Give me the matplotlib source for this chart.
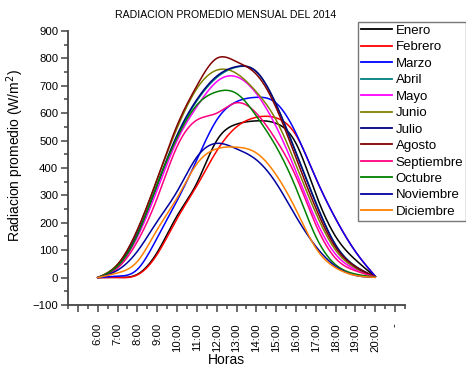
import numpy as np
import matplotlib
matplotlib.use("Agg")
import matplotlib.pyplot as plt
from matplotlib.ticker import MultipleLocator, FixedLocator

plt.rcParams['font.family'] = ['Liberation Sans', 'DejaVu Sans']

hours = [6, 7, 8, 9, 10, 11, 12, 13, 14, 15, 16, 17, 18, 19, 20]
hour_labels = ['6:00', '7:00', '8:00', '9:00', '10:00', '11:00', '12:00', '13:00',
               '14:00', '15:00', '16:00', '17:00', '18:00', '19:00', '20:00']

enero = [0, 1, 12, 92, 225, 345, 500, 560, 572, 563, 490, 305, 150, 65, 3]
febrero = [0, 0, 10, 85, 215, 335, 462, 550, 585, 583, 520, 363, 215, 95, 5]
marzo = [0, 5, 30, 145, 280, 430, 575, 642, 658, 637, 527, 363, 215, 95, 5]
abril = [0, 40, 155, 335, 515, 645, 730, 768, 752, 632, 458, 275, 120, 42, 3]
mayo = [0, 40, 148, 320, 500, 624, 715, 733, 672, 551, 387, 211, 85, 30, 2]
junio = [0, 48, 172, 360, 545, 690, 757, 745, 678, 575, 411, 236, 100, 35, 2]
julio = [0, 42, 160, 340, 520, 650, 735, 770, 752, 632, 455, 272, 118, 40, 3]
agosto = [0, 48, 175, 360, 555, 700, 800, 788, 742, 620, 437, 254, 110, 40, 3]
septiembre = [0, 35, 132, 290, 478, 575, 600, 638, 600, 502, 369, 193, 70, 25, 2]
octubre = [0, 42, 155, 340, 510, 630, 678, 672, 590, 478, 327, 150, 47, 13, 2]
noviembre = [0, 27, 96, 205, 314, 440, 490, 470, 430, 345, 223, 114, 41, 8, 1]
diciembre = [0, 17, 59, 175, 290, 415, 470, 476, 455, 375, 248, 108, 36, 8, 1]

months = ['Enero', 'Febrero', 'Marzo', 'Abril', 'Mayo', 'Junio', 'Julio',
          'Agosto', 'Septiembre', 'Octubre', 'Noviembre', 'Diciembre']
series = [enero, febrero, marzo, abril, mayo, junio, julio, agosto,
          septiembre, octubre, noviembre, diciembre]
colors = ['#000000', '#FF0000', '#0000FF', '#008080', '#FF00FF', '#808000',
          '#000080', '#800000', '#FF0080', '#008000', '#0000A0', '#FF8000']


def natural_spline(x, y, xs):
    x = np.asarray(x, float)
    y = np.asarray(y, float)
    n = len(x)
    h = np.diff(x)
    A = np.zeros((n, n))
    b = np.zeros(n)
    A[0, 0] = 1
    A[-1, -1] = 1
    for i in range(1, n - 1):
        A[i, i - 1] = h[i - 1]
        A[i, i] = 2 * (h[i - 1] + h[i])
        A[i, i + 1] = h[i]
        b[i] = 3 * ((y[i + 1] - y[i]) / h[i] - (y[i] - y[i - 1]) / h[i - 1])
    c = np.linalg.solve(A, b)
    out = np.empty_like(xs)
    idx = np.clip(np.searchsorted(x, xs) - 1, 0, n - 2)
    for k, xv in enumerate(xs):
        i = idx[k]
        dx = xv - x[i]
        bi = (y[i + 1] - y[i]) / h[i] - h[i] * (2 * c[i] + c[i + 1]) / 3
        di = (c[i + 1] - c[i]) / (3 * h[i])
        out[k] = y[i] + bi * dx + c[i] * dx ** 2 + di * dx ** 3
    return out


fig = plt.figure(figsize=(4.66, 3.68), dpi=100)
ax = fig.add_axes([68 / 466, 1 - 305 / 368, 337 / 466, 274 / 368])

xs = np.linspace(hours[0], hours[-1], 400)
for name, vals, col in zip(months, series, colors):
    ax.plot(xs, natural_spline(hours, vals, xs), color=col, lw=1.1, label=name)

ax.set_xlim(4.5, 21.5)
ax.set_ylim(-100, 900)

for s in ['top', 'right']:
    ax.spines[s].set_visible(False)
for s in ['left', 'bottom']:
    ax.spines[s].set_color('#444444')
    ax.spines[s].set_linewidth(1.3)

ax.yaxis.set_major_locator(MultipleLocator(100))
ax.yaxis.set_minor_locator(MultipleLocator(50))
tick_pos = list(range(5, 22))
ax.xaxis.set_major_locator(FixedLocator(tick_pos))
ax.set_xticklabels([''] + hour_labels + ['-'], rotation=90, fontsize=8.2)
ax.xaxis.set_minor_locator(MultipleLocator(0.5))
ax.tick_params(axis='both', which='major', length=5, width=1.1, color='#444444', direction='out')
ax.tick_params(axis='both', which='minor', length=3, width=1.1, color='#444444', direction='out')
ax.tick_params(axis='y', labelsize=8.2, pad=2)
ax.tick_params(axis='x', pad=8)

fig.text(15 / 466, 1 - 156 / 368, 'Radiacion promedio (W/m$^2$)', rotation=90,
         ha='center', va='center', fontsize=10)
fig.text(226 / 466, 1 - 360 / 368, 'Horas', ha='center', va='center', fontsize=10)
fig.text(226 / 466, 1 - 15 / 368, 'RADIACION PROMEDIO MENSUAL DEL 2014',
         ha='center', va='center', fontsize=7.6)

leg = fig.legend(loc='upper left', bbox_to_anchor=(358 / 466, 1 - 22 / 368),
                 fontsize=9.5, frameon=True, fancybox=False, borderpad=0.2,
                 labelspacing=0.32, handlelength=2.4, handletextpad=0.25,
                 borderaxespad=0)
leg.get_frame().set_edgecolor('#555555')
leg.get_frame().set_linewidth(1.0)
for l in leg.get_lines():
    l.set_linewidth(1.3)

fig.savefig('out.png', dpi=100)
